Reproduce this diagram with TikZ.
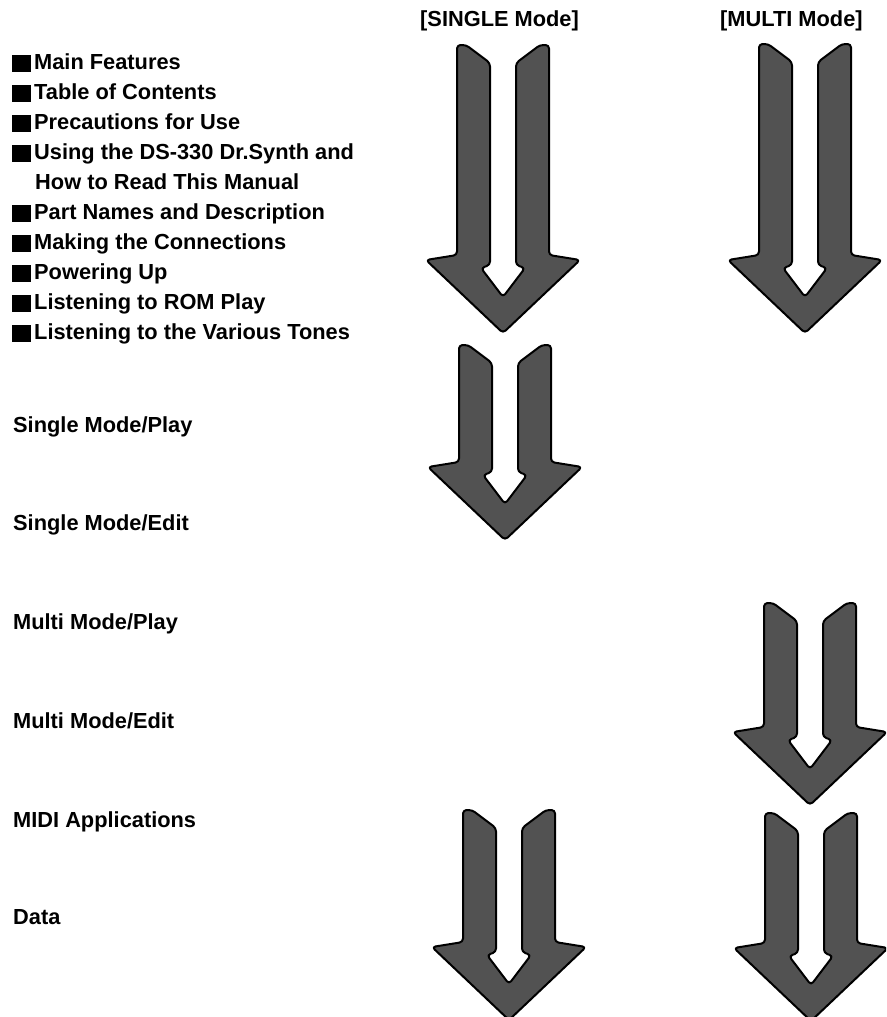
\documentclass[tikz,border=0pt]{standalone}
\usepackage{fontspec}
\setmainfont{Liberation Sans}

% square bullet in front of the chapter names
\newcommand{\sqbul}{\rule[-3pt]{19pt}{17pt}\hspace{3pt}}

% double shafted arrow: centre x, top of shafts, top of the head
\newcommand{\dualarrow}[3]{%
  \draw[twinarrow] ({#1-46},#2) -- ({#1-37},#2) -- ({#1-13},{#2+18})
    -- ({#1-13},{#3+10}) -- ({#1-22},{#3+13}) -- (#1,{#3+42})
    -- ({#1+22},{#3+13}) -- ({#1+13},{#3+10}) -- ({#1+13},{#2+18})
    -- ({#1+37},#2) -- ({#1+46},#2) -- ({#1+46},#3) -- ({#1+77},{#3+5})
    -- (#1,{#3+78}) -- ({#1-77},{#3+5}) -- ({#1-46},#3) -- cycle;}

\begin{document}
\begin{tikzpicture}[
    x=1pt, y=-1pt,
    every node/.style={inner sep=0pt, anchor=base west,
      font=\fontsize{21.8}{26}\selectfont\bfseries},
    twinarrow/.style={draw=black, line width=2pt, fill=black!68,
      rounded corners=3.5pt, line join=round}
  ]
\useasboundingbox (0,0) rectangle (886,1017);
\clip (0,0) rectangle (886,1017);

% column headings
\node (single) at (420,27) {[SINGLE Mode]};
\node (multi) at (720,27) {[MULTI Mode]};

% chapters
\node (feat) at (12,69) {\sqbul Main Features};
\node (toc) at (12,99) {\sqbul Table of Contents};
\node (prec) at (12,129) {\sqbul Precautions for Use};
\node (using) at (12,159) {\sqbul Using the DS-330 Dr.Synth and};
\node (howto) at (35,189) {How to Read This Manual};
\node (parts) at (12,219) {\sqbul Part Names and Description};
\node (conn) at (12,249) {\sqbul Making the Connections};
\node (power) at (12,279) {\sqbul Powering Up};
\node (rom) at (12,309) {\sqbul Listening to ROM Play};
\node (tones) at (12,339) {\sqbul Listening to the Various Tones};

\node (splay) at (13,432) {Single Mode/Play};
\node (sedit) at (13,530) {Single Mode/Edit};
\node (mplay) at (13,629) {Multi Mode/Play};
\node (medit) at (13,728) {Multi Mode/Edit};
\node (midi) at (13,827) {MIDI Applications};
\node (data) at (13,924) {Data};

% arrows, SINGLE column
\dualarrow{503}{45}{255}
\dualarrow{505}{345}{462}
\dualarrow{509}{810}{942}

% arrows, MULTI column
\dualarrow{805}{44}{255}
\dualarrow{810}{603}{727}
\dualarrow{811}{813}{943}

\end{tikzpicture}
\end{document}
